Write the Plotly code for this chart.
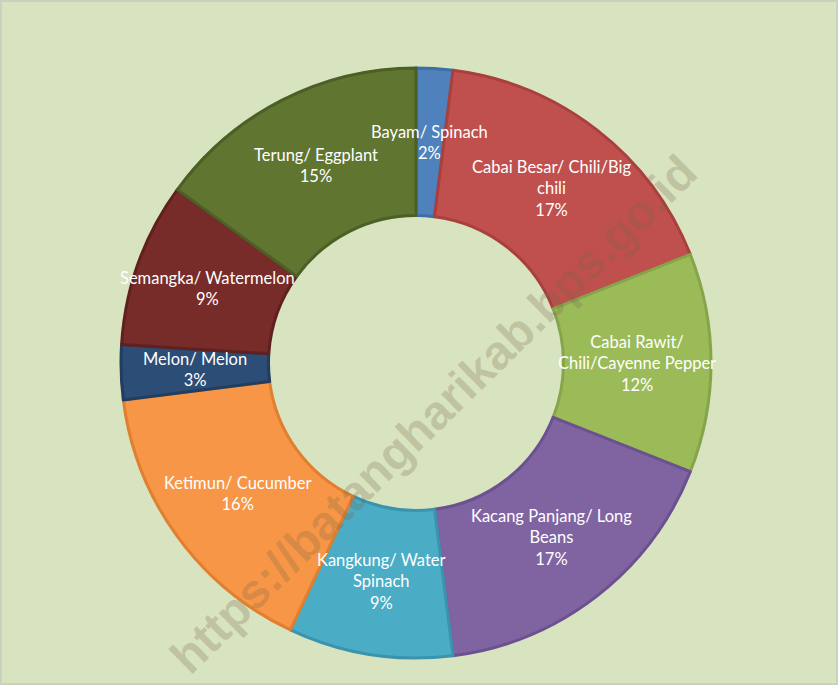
import math
import plotly.graph_objects as go

labels = ["Bayam/ Spinach", "Cabai Besar/ Chili/Big chili", "Cabai Rawit/ Chili/Cayenne Pepper",
          "Kacang Panjang/ Long Beans", "Kangkung/ Water Spinach", "Ketimun/ Cucumber",
          "Melon/ Melon", "Semangka/ Watermelon", "Terung/ Eggplant"]
label_text = ["Bayam/ Spinach", "Cabai Besar/ Chili/Big<br>chili", "Cabai Rawit/<br>Chili/Cayenne Pepper",
              "Kacang Panjang/ Long<br>Beans", "Kangkung/ Water<br>Spinach", "Ketimun/ Cucumber",
              "Melon/ Melon", "Semangka/ Watermelon", "Terung/ Eggplant"]
values = [2, 17, 12, 17, 9, 16, 3, 9, 15]
colors = ["#4F81BD", "#C0504D", "#9BBB59", "#8064A2", "#4BACC6", "#F79646", "#2C4D75", "#772C2A", "#5F7530"]
edge_colors = ["#3F6DA6", "#A9403D", "#86A54A", "#6B5190", "#3A94AE", "#E07F30", "#223D5E", "#5F2120", "#4C5F25"]

W, H = 838, 685
ML, MR, MT, MB = 20, 26, 68, 27
HOLE = 0.5

fig = go.Figure(go.Pie(
    labels=labels, values=values, textinfo="none",
    sort=False, direction="clockwise", rotation=0, hole=HOLE,
    marker=dict(colors=colors, line=dict(color=edge_colors, width=3)),
    hoverinfo="label+percent", showlegend=False,
))

# label positions at the centroid radius of each ring slice, derived from the data
plot_w, plot_h = W - ML - MR, H - MT - MB
radius = min(plot_w, plot_h) / 2
r_mid = radius * (1 + HOLE) / 2
total = sum(values)
cum = 0
for txt, v in zip(label_text, values):
    theta = 2 * math.pi * (cum + v / 2) / total
    cum += v
    xp = 0.5 + r_mid * math.sin(theta) / plot_w
    yp = 0.5 + r_mid * math.cos(theta) / plot_h
    fig.add_annotation(
        text=f"{txt}<br>{v}%", x=xp, y=yp, xref="paper", yref="paper",
        showarrow=False, xanchor="center", yanchor="middle", align="center",
        font=dict(family="Lato", size=16.5, color="white"),
    )

fig.add_annotation(
    text="<b>https://batangharikab.bps.go.id</b>", xref="paper", yref="paper",
    x=(433 - ML) / plot_w, y=1 - (414 - MT) / plot_h, textangle=-44.5, showarrow=False,
    font=dict(family="Liberation Sans", size=48, color="rgba(120,100,70,0.25)"),
    xanchor="center", yanchor="middle",
)

fig.add_shape(type="rect", xref="paper", yref="paper",
              x0=-(ML - 1) / plot_w, x1=1 + (MR - 1) / plot_w,
              y0=-(MB - 1) / plot_h, y1=1 + (MT - 1) / plot_h,
              line=dict(color="#CBD0BF", width=2), layer="below")

fig.update_layout(
    width=W, height=H,
    margin=dict(l=ML, r=MR, t=MT, b=MB),
    paper_bgcolor="#D8E3C0", plot_bgcolor="#D8E3C0",
)

fig.write_html("out.html", config={"displayModeBar": False},
               post_script="document.body.style.margin='0';document.body.style.background='#D8E3C0';")
